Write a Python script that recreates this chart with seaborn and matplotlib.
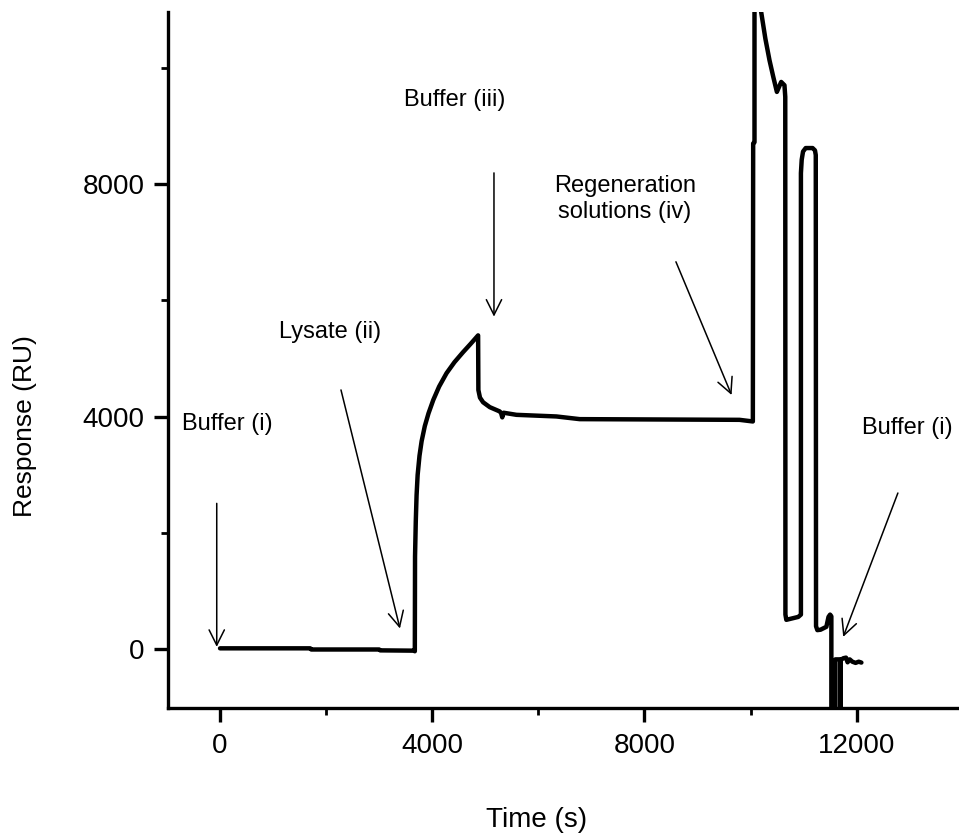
import numpy as np
import pandas as pd
import matplotlib
matplotlib.use("Agg")
import matplotlib.pyplot as plt
from matplotlib.ticker import AutoMinorLocator
import seaborn as sns

# ---------------- data ----------------
time_s = [0, 1700, 1720, 3000, 3020, 3650, 3672, 3676, 3690, 3705, 3725, 3760,
          3800, 3860, 3930, 4020, 4130, 4270, 4420, 4580, 4720, 4865, 4870,
          4900, 4959, 5085, 5273, 5300, 5320, 5345, 5588, 6341, 6780, 9793,
          10044, 10050, 10075, 10075, 10150, 10201, 10280, 10358, 10430, 10497,
          10578, 10640, 10655, 10658, 10675, 10900, 10950, 10950, 10965, 10990,
          11040, 11170, 11215, 11230, 11235, 11260, 11320, 11430, 11470, 11500,
          11524, 11524, 11600, 11600, 11690, 11690, 11700, 11700, 11750, 11800,
          11830, 11870, 11920, 11980, 12040, 12090]
response_ru = [20, 20, 0, 0, -15, -20, -30, 1600, 2200, 2650, 3000, 3330,
               3580, 3840, 4060, 4290, 4520, 4750, 4940, 5110, 5250, 5400, 4460,
               4330, 4250, 4166, 4092, 4060, 3990, 4070, 4034, 4006, 3960, 3948,
               3920, 8700, 8720, 12500, 12500, 10958, 10500, 10129, 9840, 9585,
               9757, 9700, 9500, 600, 510, 560, 600, 8189, 8420, 8560,
               8620, 8620, 8580, 8500, 400, 333, 340, 390, 560, 600,
               570, -1500, -1500, -170, -170, -1500, -1500, -180, -150, -140,
               -220, -170, -210, -230, -210, -225]

x_ticks = [0, 4000, 8000, 12000]
y_ticks = [0, 4000, 8000]

# annotations: label, text position, arrow tail, arrow head
ann_labels = ["Buffer (i)", "Lysate (ii)", "Buffer (iii)",
              "Regeneration\nsolutions (iv)", "Buffer (i)"]
ann_text_xy = [(-723, 3876), (1112, 5460), (3468, 9449), (7633, 7746), (12099, 3807)]
ann_text_ha = ["left", "left", "left", "center", "left"]
arrow_tail = [(-62, 2512), (2280, 4462), (5164, 8193), (8594, 6665), (12778, 2690)]
arrow_head = [(-62, 45), (3392, 361), (5164, 5722), (9643, 4375), (11747, 217)]

df = pd.DataFrame({"Time (s)": time_s, "Response (RU)": response_ru})

# ---------------- style ----------------
sns.set_style("ticks")
plt.rcParams["font.family"] = ["Liberation Sans", "DejaVu Sans"]

fig = plt.figure(figsize=(9.59, 8.35), dpi=100)
ax = fig.add_axes([0.1755, 0.1525, 0.8245, 0.8332])

sns.lineplot(data=df, x="Time (s)", y="Response (RU)", sort=False,
             estimator=None, color="black", linewidth=3.2, ax=ax)

ax.set_xlim(-975, 13930)
ax.set_ylim(-1000, 10960)
ax.set_xticks(x_ticks)
ax.set_yticks(y_ticks)
ax.xaxis.set_minor_locator(AutoMinorLocator(2))
ax.yaxis.set_minor_locator(AutoMinorLocator(2))

for side in ["top", "right"]:
    ax.spines[side].set_visible(False)
for side in ["left", "bottom"]:
    ax.spines[side].set_linewidth(2.4)
    ax.spines[side].set_color("black")

ax.tick_params(axis="both", which="major", direction="out", length=10,
               width=2.4, color="black", labelsize=20, labelcolor="black")
ax.tick_params(axis="both", which="minor", direction="out", length=5,
               width=2.0, color="black")
ax.tick_params(axis="x", which="major", pad=8)
ax.tick_params(axis="y", which="major", pad=7)

ax.set_xlabel("Time (s)", fontsize=20, color="black")
ax.set_ylabel("Response (RU)", fontsize=19, color="black")
ax.xaxis.set_label_coords(0.4657, -0.1427)
ax.yaxis.set_label_coords(-0.166, 0.405)

for lab, txy, ha, tail, head in zip(ann_labels, ann_text_xy, ann_text_ha,
                                    arrow_tail, arrow_head):
    ax.text(txy[0], txy[1], lab, ha=ha, va="center", fontsize=17,
            color="black", linespacing=1.2)
    ax.annotate("", xy=head, xytext=tail,
                arrowprops=dict(arrowstyle="->,head_length=1.1,head_width=0.55",
                                color="black", lw=1.1, shrinkA=0, shrinkB=0,
                                mutation_scale=10))

fig.savefig("out.png", dpi=100)
